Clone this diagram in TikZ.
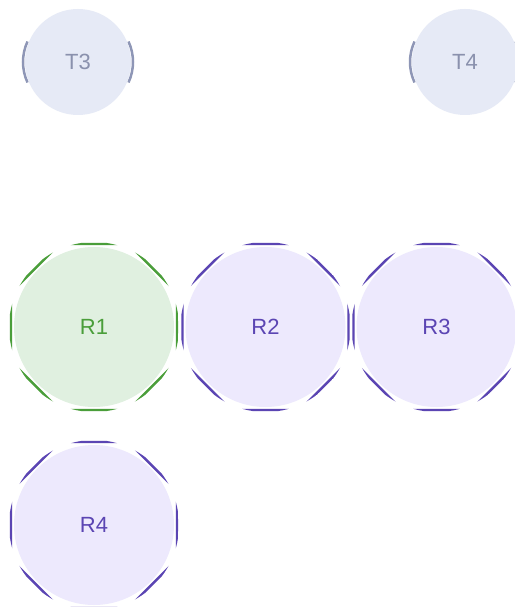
\documentclass[tikz,border=0pt]{standalone}
\usepackage{fontspec}
\setmainfont{Liberation Sans}
\definecolor{tfill}{HTML}{E6EAF6}
\definecolor{tline}{HTML}{8E96B6}
\definecolor{ttext}{HTML}{8A91AD}
\definecolor{gfill}{HTML}{E0F0E0}
\definecolor{gline}{HTML}{4A9E3A}
\definecolor{pfill}{HTML}{EDE9FD}
\definecolor{pline}{HTML}{5B45B3}
\newcommand\myocta[2]{%
  \begin{scope}
    \clip (#1) circle (85);
    \draw[line width=2.4pt, #2] ([shift={(22.5:89.84)}]#1)
      \foreach \a in {67.5,112.5,...,337.5}{ -- ([shift={(\a:89.84)}]#1)} -- cycle;
  \end{scope}}
\newcommand\mytarcs[1]{%
  \draw[tline, line width=2.5pt] ([shift={(155:48.5)}]#1) ++(-6.5,0)
    arc[start angle=155, end angle=205, radius=48.5];
  \draw[tline, line width=2.5pt] ([shift={(25:48.5)}]#1) ++(6.5,0)
    arc[start angle=25, end angle=-25, radius=48.5];}
\begin{document}
\begin{tikzpicture}[x=1pt,y=-1pt,
  lbl/.style={font=\fontsize{22}{26}\selectfont},
  tnode/.style={circle, fill=tfill, text=ttext, minimum size=106pt, inner sep=0pt, lbl},
  gnode/.style={circle, fill=gfill, text=gline, minimum size=160pt, inner sep=0pt, lbl},
  pnode/.style={circle, fill=pfill, text=pline, minimum size=160pt, inner sep=0pt, lbl}]
\useasboundingbox (0,0) rectangle (514,607);
\fill[white] (0,0) rectangle (514,607);
% T nodes
\coordinate (ct3) at (78,62);
\coordinate (ct4) at (465,62);
\mytarcs{ct3}
\mytarcs{ct4}
\node[tnode] (T3) at (ct3) {T3};
\node[tnode] (T4) at (ct4) {T4};
% R nodes
\coordinate (c1) at (94,327);
\coordinate (c2) at (265.5,327);
\coordinate (c3) at (436.5,327);
\coordinate (c4) at (94,525);
\myocta{c1}{gline}
\myocta{c2}{pline}
\myocta{c3}{pline}
\myocta{c4}{pline}
\node[gnode] (R1) at (c1) {R1};
\node[pnode] (R2) at (c2) {R2};
\node[pnode] (R3) at (c3) {R3};
\node[pnode] (R4) at (c4) {R4};
\end{tikzpicture}
\end{document}
